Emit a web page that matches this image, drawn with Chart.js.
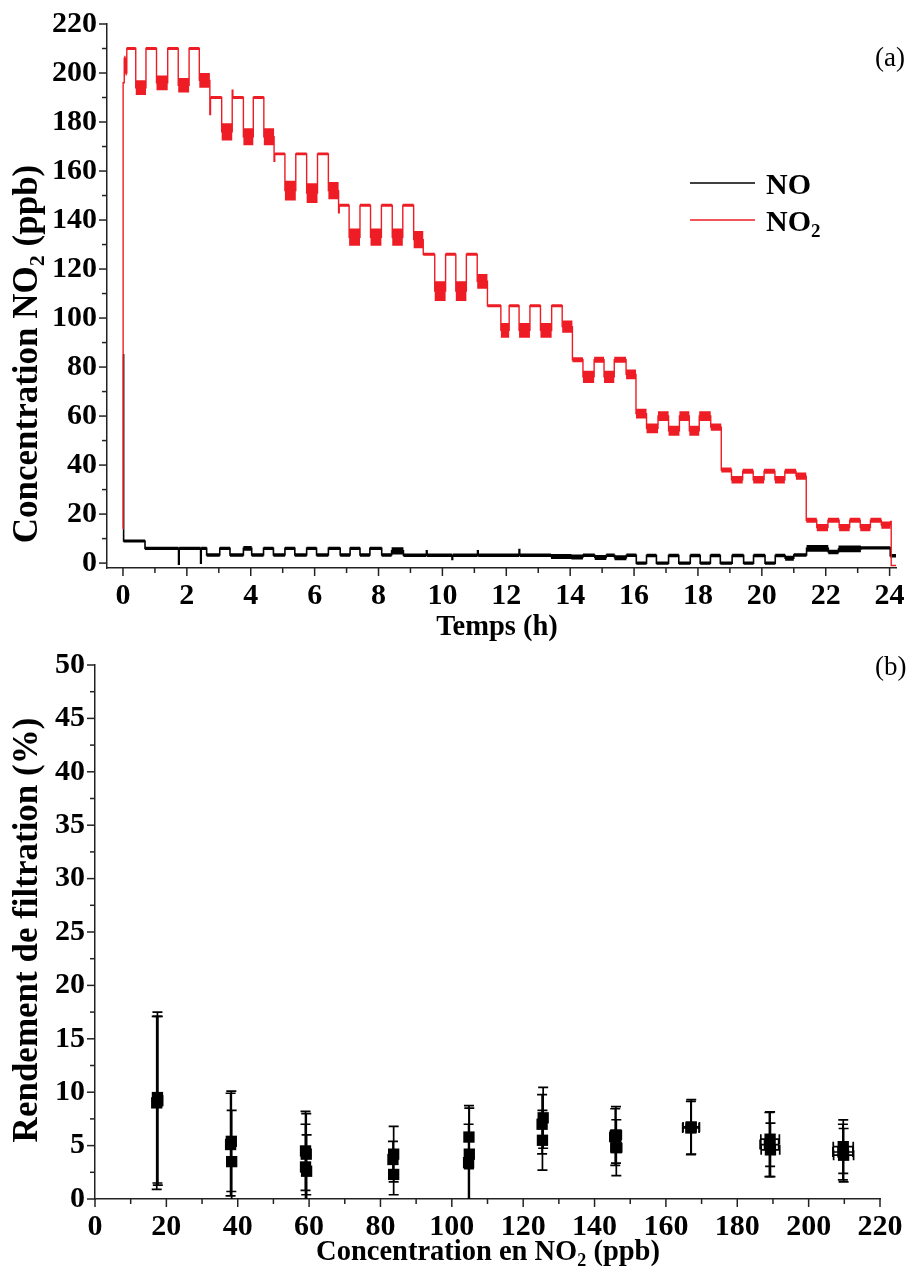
<!DOCTYPE html>
<html><head><meta charset="utf-8">
<script src="https://cdn.jsdelivr.net/npm/chart.js@4.4.1/dist/chart.umd.min.js"></script>
<style>
html,body{margin:0;padding:0;background:#fff;}
#wrap{position:relative;width:914px;height:1274px;background:#fff;}
.box{position:absolute;left:0;width:914px;}
</style></head><body>
<div id="wrap">
<div class="box" style="top:0;height:645px"><canvas id="c1" width="914" height="645"></canvas></div>
<div class="box" style="top:645px;height:629px"><canvas id="c2" width="914" height="629"></canvas></div>
</div>
<script>
// ---------------- DATA ----------------
// NO2 step record: start time (h), level (ppb), noise half-band (ppb)
const no2Start = [0, 0.005, 0.04, 0.08, 0.12, 0.40, 0.72, 1.05, 1.40, 1.73, 2.07, 2.39, 2.72, 2.74, 3.09, 3.42, 3.44, 3.77, 4.08, 4.41, 4.73, 4.75, 5.07, 5.41, 5.75, 6.09, 6.43, 6.75, 6.77, 7.08, 7.42, 7.75, 8.09, 8.43, 8.76, 9.10, 9.40, 9.76, 10.10, 10.42, 10.75, 11.09, 11.41, 11.83, 12.09, 12.40, 12.74, 13.07, 13.42, 13.75, 14.07, 14.40, 14.75, 15.06, 15.38, 15.75, 16.06, 16.39, 16.75, 17.08, 17.42, 17.73, 18.04, 18.40, 18.73, 19.05, 19.40, 19.73, 20.07, 20.41, 20.72, 21.07, 21.39, 21.72, 22.07, 22.42, 22.75, 23.08, 23.40, 23.74, 24.03, 24.05];
const no2Level = [14, 196, 206, 200, 210, 194, 210, 196, 210, 195, 210, 197, 183, 190, 176, 193, 190, 174, 190, 174, 164, 167, 152, 167, 151, 167, 152, 143, 146, 133, 146, 133, 146, 133, 146, 132, 126, 111, 126, 111, 126, 115, 105, 95, 105, 95, 105, 95, 105, 96.5, 83, 76, 83, 76, 83, 77, 61, 55, 60, 54, 60, 54, 60, 55.5, 38, 34, 37.5, 34, 37.5, 34, 37.5, 35.5, 17.5, 14.5, 17.5, 14.5, 17.5, 14.5, 17.5, 15.5, 17, -1];
const no2Noise = [0, 0, 1, 1, 0.6, 3, 0.6, 3, 0.6, 3, 0.6, 3, 0, 0.6, 3.5, 0, 0.6, 3.5, 0.6, 3.5, 0, 0.6, 4, 0.6, 4, 0.6, 3.5, 0, 0.6, 3.5, 0.6, 3.5, 0.6, 3.5, 0.6, 3.5, 0.6, 4, 0.6, 4, 0.6, 3, 0.6, 3, 0.6, 3, 0.6, 3, 0.6, 2.5, 1, 2.5, 1.2, 2.5, 1.2, 2, 2, 2, 2, 2, 2, 2, 2, 1.5, 1, 1.5, 1, 1.5, 1, 1.5, 1, 1.5, 1, 1.5, 1, 1.5, 1, 1.5, 1, 1.5, 0, 0];
const no2End = 24.2;

// NO step record: start time (h), level (ppb), noise half-band (ppb)
const noStart = [0, 0.02, 0.69, 1.74, 1.76, 2.43, 2.45, 2.62, 3.03, 3.35, 3.77, 4.03, 4.40, 4.71, 5.07, 5.38, 5.75, 6.06, 6.43, 6.80, 7.11, 7.42, 7.73, 8.10, 8.41, 8.78, 9.50, 9.52, 10.30, 10.32, 11.10, 11.12, 12.40, 12.42, 13.40, 14.04, 14.40, 14.77, 15.13, 15.39, 15.76, 16.07, 16.39, 16.70, 17.08, 17.40, 17.76, 18.07, 18.39, 18.70, 19.07, 19.43, 19.74, 20.10, 20.42, 20.73, 21.00, 21.40, 22.08, 22.40, 23.10, 24.02];
const noLevel = [85, 9, 6, -0.5, 6, 0, 6, 3.3, 6, 3.3, 6, 3.3, 6, 3.3, 6, 3.3, 6, 3.3, 6, 3.3, 6, 3.3, 6, 3.3, 5, 3.2, 5, 3.2, 1.5, 3.2, 5, 3.2, 5.5, 3.2, 2.7, 2.5, 3.2, 2.3, 3.2, 2.2, 3.2, 0, 3.1, 0, 3.1, 0, 3.1, 0, 3.1, 0, 3.1, 0, 3.1, 0, 3.1, 2.0, 3.3, 6, 4.5, 5.8, 6.2, 3];
const noNoise = [0, 0.6, 0.7, 0, 0.7, 0, 0.7, 0.7, 0.7, 0.7, 1.0, 0.7, 0.7, 0.7, 0.7, 0.7, 0.7, 0.7, 0.7, 0.7, 0.7, 0.7, 0.7, 0.7, 1.5, 0.7, 0, 0.7, 0, 0.7, 0, 0.7, 0, 0.7, 1, 1, 0.7, 1, 0.7, 1, 0.7, 0.7, 0.7, 0.7, 0.7, 0.7, 0.7, 0.7, 0.7, 0.7, 0.7, 0.7, 0.7, 0.7, 0.7, 1, 0.7, 1.4, 0.9, 1.4, 0.7, 0.7];
const noEnd = 24.2;

// Panel (b): filtration efficiency vs NO2 concentration
const effConc    = [17.5, 17.3, 17.6, 38.2, 38.0, 38.3, 59.0, 59.2, 59.0, 59.3, 83.7, 83.5, 83.7, 104.8, 104.9, 104.7, 125.6, 125.3, 125.4, 146.0, 145.8, 146.1, 167.1, 167.0, 189.2, 189.0, 189.3, 209.7, 209.6, 209.8];
const effVal     = [9.5, 9.0, 9.2, 5.4, 5.1, 3.5, 4.5, 4.2, 3.0, 2.6, 4.2, 3.7, 2.3, 5.8, 4.2, 3.4, 7.6, 7.0, 5.5, 6.0, 5.8, 4.8, 6.75, 6.65, 5.6, 5.1, 4.6, 4.9, 4.4, 4.1];
const effErr     = [8.0, 8.1, 7.9, 4.7, 4.8, 4.8, 3.7, 3.8, 4.0, 3.4, 2.6, 1.7, 1.9, 2.95, 4.3, 3.6, 2.85, 2.77, 2.8, 2.65, 2.65, 2.62, 2.55, 2.5, 2.55, 3.0, 2.5, 2.5, 2.6, 2.5];
const effConcErr = [0, 0, 0, 0, 0, 0, 0, 0, 0, 0, 0, 0, 0, 0, 0, 0, 0.8, 0.8, 0.8, 1.5, 1.5, 1.5, 2.3, 2.3, 2.6, 2.6, 2.6, 2.8, 2.8, 2.8];

// Tick labels
const timeTicks = [0, 2, 4, 6, 8, 10, 12, 14, 16, 18, 20, 22, 24];
const ppbTicks = [0, 20, 40, 60, 80, 100, 120, 140, 160, 180, 200, 220];
const concTicks = [0, 20, 40, 60, 80, 100, 120, 140, 160, 180, 200, 220];
const effTicks = [0, 5, 10, 15, 20, 25, 30, 35, 40, 45, 50];

// ---------------- HELPERS ----------------
const FONT = "'Liberation Serif','Times New Roman',serif";
const RED = '#ee1c25';

function stepSeries(starts, vals, end, offs, sign) {
  const d = starts.map((t, i) => ({x: t, y: vals[i] + (offs ? sign * offs[i] : 0)}));
  d.push({x: end, y: d[d.length - 1].y});
  return d;
}

function drawRich(ctx, parts, x, y, o) {
  ctx.save();
  ctx.translate(x, y);
  if (o.rotate) ctx.rotate(o.rotate);
  const size = o.size, sub = Math.round(size * 0.62);
  const w = o.weight || 'bold';
  let total = 0;
  const ws = parts.map(p => {
    ctx.font = w + ' ' + (p.sub ? sub : size) + 'px ' + FONT;
    const m = ctx.measureText(p.t).width; total += m; return m;
  });
  const sx = o.width ? o.width / total : 1;
  ctx.scale(sx, 1);
  let cx = o.align === 'left' ? 0 : -total / 2;
  ctx.textBaseline = 'alphabetic';
  ctx.textAlign = 'left';
  ctx.fillStyle = o.color || '#000';
  parts.forEach((p, i) => {
    ctx.font = w + ' ' + (p.sub ? sub : size) + 'px ' + FONT;
    ctx.fillText(p.t, cx, p.sub ? size * 0.2 : 0);
    cx += ws[i];
  });
  ctx.restore();
}

function tickPlugin(spec) {
  return {
    id: 'ticksMinor',
    afterDraw(chart) {
      const ctx = chart.ctx;
      ctx.save();
      ctx.strokeStyle = '#222';
      ctx.lineWidth = 1.5;
      const xs = chart.scales.x, ys = chart.scales.y;
      const ca = chart.chartArea;
      spec.x.forEach(([v, len]) => {
        const px = xs.getPixelForValue(v);
        ctx.beginPath(); ctx.moveTo(px, ca.bottom); ctx.lineTo(px, ca.bottom + len); ctx.stroke();
      });
      spec.y.forEach(([v, len]) => {
        const py = ys.getPixelForValue(v);
        ctx.beginPath(); ctx.moveTo(ca.left, py); ctx.lineTo(ca.left - len, py); ctx.stroke();
      });
      ctx.restore();
    }
  };
}

function tickList(min, max, step, minorEvery) {
  const out = [];
  for (let v = min; v <= max + 1e-9; v += step / minorEvery) {
    const k = Math.round((v - min) / (step / minorEvery));
    out.push([v, k % minorEvery === 0 ? 8 : 5]);
  }
  return out;
}

const tickFont = {family: FONT, size: 30, weight: 'bold'};

function axis(min, max, ticksArr, fitProp, fitVal, pad) {
  return {
    type: 'linear', min, max,
    afterBuildTicks: s => { s.ticks = ticksArr.map(v => ({value: v})); },
    afterFit: s => { s[fitProp] = fitVal; },
    ticks: {font: tickFont, color: '#000', padding: pad, maxRotation: 0, autoSkip: false},
    grid: {display: false, drawTicks: true, tickLength: 8},
    border: {display: true, color: '#222', width: 1.5}
  };
}

// ---------------- CHART (a) ----------------
const textA = {
  id: 'textA',
  afterDraw(chart) {
    const ctx = chart.ctx;
    drawRich(ctx, [{t: 'Temps (h)'}], 497, 635, {size: 28.5});
    drawRich(ctx, [{t: 'Concentration NO'}, {t: '2', sub: true}, {t: ' (ppb)'}], 37, 354, {size: 35, rotate: -Math.PI / 2});
    drawRich(ctx, [{t: '(a)'}], 875, 66, {size: 27, weight: 'normal', align: 'left'});
    // legend
    ctx.save();
    ctx.lineWidth = 1.5;
    ctx.strokeStyle = '#000';
    ctx.beginPath(); ctx.moveTo(690, 183); ctx.lineTo(755, 183); ctx.stroke();
    ctx.strokeStyle = RED;
    ctx.beginPath(); ctx.moveTo(690, 220); ctx.lineTo(755, 220); ctx.stroke();
    ctx.restore();
    drawRich(ctx, [{t: 'NO'}], 766, 194, {size: 30, align: 'left'});
    drawRich(ctx, [{t: 'NO'}, {t: '2', sub: true}], 766, 231, {size: 30, align: 'left'});
  }
};

new Chart(document.getElementById('c1'), {
  type: 'line',
  data: {
    datasets: [
      {data: stepSeries(no2Start, no2Level, no2End, no2Noise, 1), stepped: true, borderWidth: 0, borderColor: RED, backgroundColor: RED, fill: '+1', pointRadius: 0},
      {data: stepSeries(no2Start, no2Level, no2End, no2Noise, -1), stepped: true, borderWidth: 0, borderColor: RED, fill: false, pointRadius: 0},
      {label: 'NO2', data: stepSeries(no2Start, no2Level, no2End), stepped: true, borderWidth: 1.4, borderColor: RED, fill: false, pointRadius: 0},
      {data: stepSeries(noStart, noLevel, noEnd, noNoise, 1), stepped: true, borderWidth: 0, borderColor: '#000', backgroundColor: '#000', fill: '+1', pointRadius: 0},
      {data: stepSeries(noStart, noLevel, noEnd, noNoise, -1), stepped: true, borderWidth: 0, borderColor: '#000', fill: false, pointRadius: 0},
      {label: 'NO', data: stepSeries(noStart, noLevel, noEnd), stepped: true, borderWidth: 1.6, borderColor: '#000', fill: false, pointRadius: 0}
    ]
  },
  options: {
    responsive: false, animation: false, devicePixelRatio: 1,
    layout: {padding: {left: 0, top: 24, right: 18, bottom: 17}},
    plugins: {legend: {display: false}, tooltip: {enabled: false}},
    scales: {
      x: axis(-0.5, 24.2, timeTicks, 'height', 60, 2),
      y: axis(-2, 220, ppbTicks, 'width', 107, 2)
    }
  },
  plugins: [tickPlugin({x: tickList(0, 24, 2, 2), y: tickList(0, 220, 20, 2)}), textA]
});

// ---------------- CHART (b) ----------------
const errorBars = {
  id: 'errorBars',
  beforeDatasetsDraw(chart) {
    const ctx = chart.ctx, xs = chart.scales.x, ys = chart.scales.y, ca = chart.chartArea;
    ctx.save();
    ctx.beginPath(); ctx.rect(ca.left, ca.top, ca.right - ca.left, ca.bottom - ca.top); ctx.clip();
    ctx.strokeStyle = '#000';
    ctx.lineWidth = 1.7;
    const cap = 5;
    effConc.forEach((c, i) => {
      const px = xs.getPixelForValue(c);
      const y1 = ys.getPixelForValue(effVal[i] + effErr[i]);
      const y0 = ys.getPixelForValue(effVal[i] - effErr[i]);
      const py = ys.getPixelForValue(effVal[i]);
      ctx.beginPath();
      ctx.moveTo(px, y0); ctx.lineTo(px, y1);
      ctx.moveTo(px - cap, y1); ctx.lineTo(px + cap, y1);
      ctx.moveTo(px - cap, y0); ctx.lineTo(px + cap, y0);
      if (effConcErr[i] > 0) {
        const xl = xs.getPixelForValue(c - effConcErr[i]);
        const xr = xs.getPixelForValue(c + effConcErr[i]);
        ctx.moveTo(xl, py); ctx.lineTo(xr, py);
        ctx.moveTo(xl, py - cap); ctx.lineTo(xl, py + cap);
        ctx.moveTo(xr, py - cap); ctx.lineTo(xr, py + cap);
      }
      ctx.stroke();
    });
    ctx.restore();
  }
};

const textB = {
  id: 'textB',
  afterDraw(chart) {
    const ctx = chart.ctx;
    drawRich(ctx, [{t: 'Concentration en NO'}, {t: '2', sub: true}, {t: ' (ppb)'}], 488, 615, {size: 28.5});
    drawRich(ctx, [{t: 'Rendement de filtration (%)'}], 37, 285, {size: 35, rotate: -Math.PI / 2});
    drawRich(ctx, [{t: '(b)'}], 875, 30, {size: 27, weight: 'normal', align: 'left'});
  }
};

new Chart(document.getElementById('c2'), {
  type: 'scatter',
  data: {
    datasets: [{
      label: 'Rendement',
      data: effConc.map((c, i) => ({x: c, y: effVal[i]})),
      pointStyle: 'rect', pointRadius: 8, pointHoverRadius: 8,
      backgroundColor: '#000', borderColor: '#000', borderWidth: 0
    }]
  },
  options: {
    responsive: false, animation: false, devicePixelRatio: 1,
    layout: {padding: {left: 0, top: 20, right: 34, bottom: 30}},
    plugins: {legend: {display: false}, tooltip: {enabled: false}},
    scales: {
      x: axis(0, 220, concTicks, 'height', 45, 2),
      y: axis(0, 50, effTicks, 'width', 95, 2)
    }
  },
  plugins: [tickPlugin({x: tickList(0, 220, 20, 2), y: tickList(0, 50, 5, 2)}), errorBars, textB]
});
</script>
</body></html>
